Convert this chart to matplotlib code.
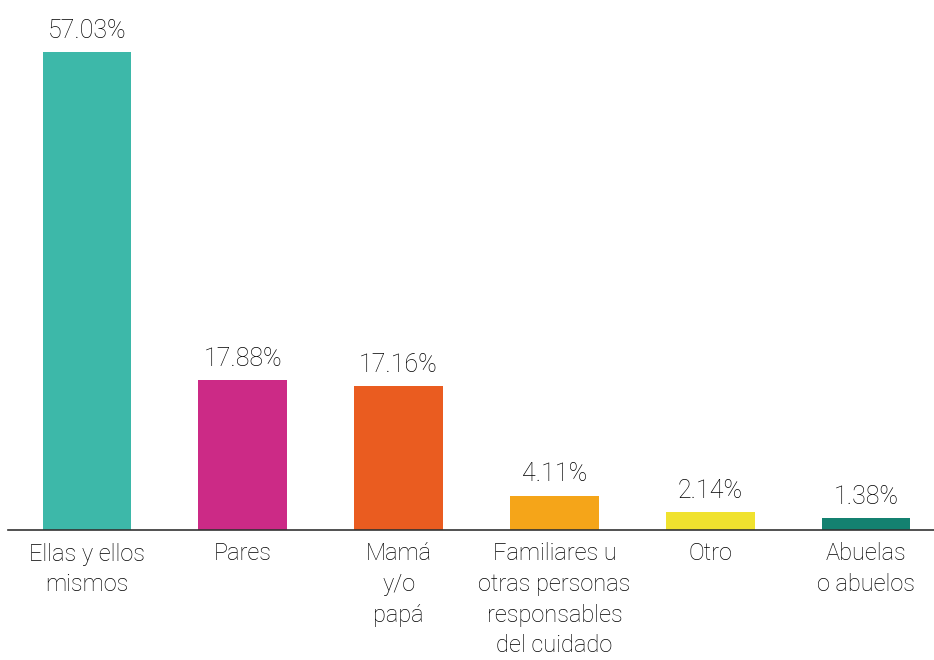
import matplotlib.pyplot as plt

categorias = ["Ellas y ellos\nmismos", "Pares", "Mamá\ny/o\npapá",
              "Familiares u\notras personas\nresponsables\ndel cuidado",
              "Otro", "Abuelas\no abuelos"]
valores = [57.03, 17.88, 17.16, 4.11, 2.14, 1.38]
colores = ["#3db8a9", "#cc2a86", "#ea5c20", "#f5a519", "#f0e22e", "#148170"]

plt.rcParams['font.family'] = ['Roboto', 'DejaVu Sans']

fig = plt.figure(figsize=(9.34, 6.6), dpi=100)
ax = fig.add_axes([8 / 934, 130 / 660, 1 - 8 / 934, 530 / 660])

x = list(range(len(valores)))
ax.bar(x, valores, width=0.57, color=colores)

for xi, v in zip(x, valores):
    ax.text(xi, v + 1.1, f"{v:.2f}%", ha="center", va="bottom",
            fontsize=18, fontweight="light", color="#000000")

ax.set_xlim(-0.507, 5.436)
ax.set_ylim(0, 63.2)
ax.set_xticks(x)
ax.set_xticklabels(categorias, fontsize=17, fontweight="light",
                   color="#000000", linespacing=1.42)
ax.tick_params(axis="x", length=0, pad=9)
ax.set_yticks([])
for s in ["top", "right", "left"]:
    ax.spines[s].set_visible(False)
ax.spines["bottom"].set_color("#333333")
ax.spines["bottom"].set_linewidth(1.2)

fig.savefig("out.png", dpi=100)
